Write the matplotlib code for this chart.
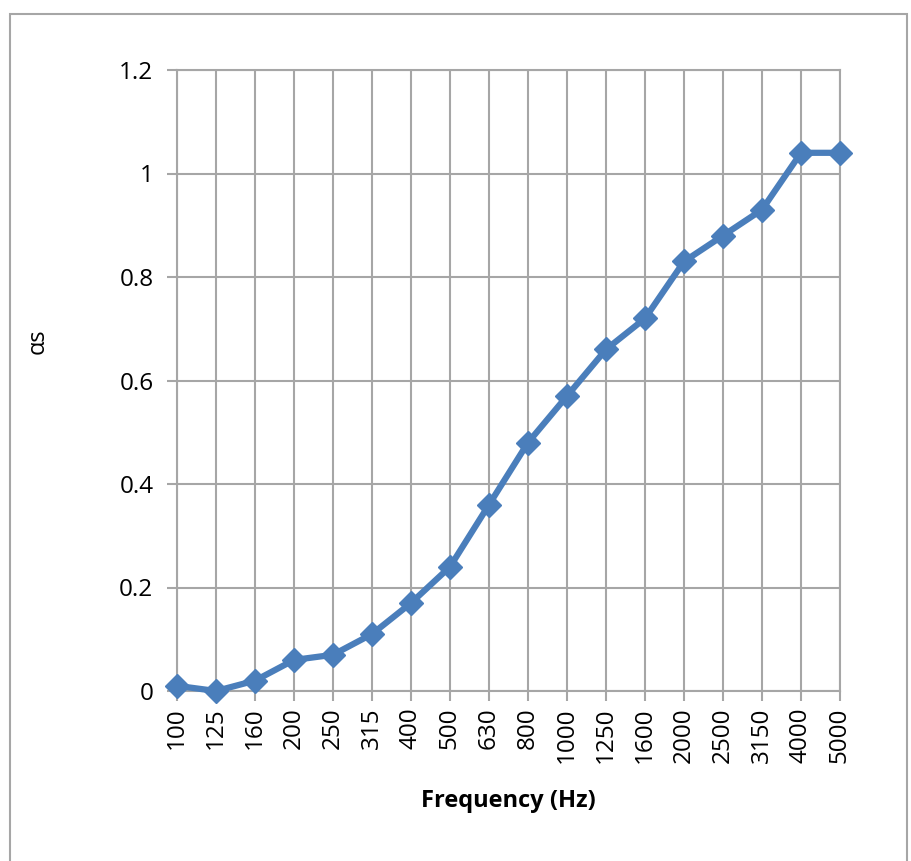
import numpy as np
import matplotlib.pyplot as plt
from matplotlib.patches import Rectangle

# Frequenzen (Terzbänder) und Absorptionsgrad
freqs = ["100", "125", "160", "200", "250", "315", "400", "500", "630",
         "800", "1000", "1250", "1600", "2000", "2500", "3150", "4000", "5000"]
alpha_s = [0.01, 0.0, 0.02, 0.06, 0.07, 0.11, 0.17, 0.24, 0.36,
           0.48, 0.57, 0.66, 0.72, 0.83, 0.88, 0.93, 1.04, 1.04]
yticks = [0, 0.2, 0.4, 0.6, 0.8, 1.0, 1.2]
ylabels = ["0", "0.2", "0.4", "0.6", "0.8", "1", "1.2"]

plt.rcParams['font.family'] = ['Open Sans', 'DejaVu Sans']
grey = "#a6a6a6"

fig = plt.figure(figsize=(9.12, 8.61), dpi=100)
ax = fig.add_axes([177/912, 1 - 691/861, (840-177)/912, (691-70)/861])

x = np.arange(len(freqs))
ax.plot(x, alpha_s, color="#4a7ebb", lw=4.5, marker="D", ms=12,
        markeredgecolor="#4a7ebb", zorder=3, clip_on=False)

ax.set_xlim(0, len(freqs) - 1)
ax.set_ylim(0, 1.2)
ax.set_xticks(x)
ax.set_xticklabels(freqs, rotation=90)
ax.set_yticks(yticks)
ax.set_yticklabels(ylabels)
ax.tick_params(axis="both", labelsize=17.5, color=grey, width=1.5, length=7)
ax.tick_params(axis="x", pad=5)
ax.tick_params(axis="y", pad=10)
ax.grid(True, color=grey, lw=1.5)
ax.set_axisbelow(True)
for s in ax.spines.values():
    s.set_color(grey)
    s.set_linewidth(1.5)

# Achsentitel
fig.text(508/912, 1 - 801/861, "Frequency (Hz)", fontsize=17,
         fontweight="bold", ha="center", va="center")
fig.text(38/912, 1 - 341/861, "αs", rotation=90, fontsize=17,
         ha="center", va="center")

# Rahmen um das Diagramm
fig.patches.append(Rectangle((10/912, -0.02), (907-10)/912, 1 - 14/861 + 0.02,
                             transform=fig.transFigure, fill=False,
                             edgecolor=grey, lw=1.5))

fig.savefig("out.png", dpi=100)
